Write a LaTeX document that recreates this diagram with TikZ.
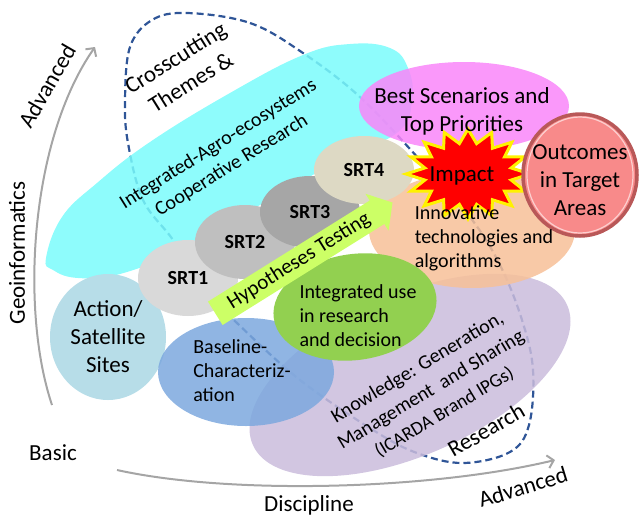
\documentclass[tikz,border=0pt]{standalone}
\usepackage{fontspec}
\setmainfont{Carlito}
\usetikzlibrary{shapes.geometric,shapes.arrows,arrows.meta}

\definecolor{loopblue}{RGB}{47,85,151}
\definecolor{cyanfill}{RGB}{122,251,251}
\definecolor{pinkfill}{RGB}{249,134,249}
\definecolor{peachfill}{RGB}{247,192,152}
\definecolor{lilacfill}{RGB}{202,188,220}
\definecolor{leaffill}{RGB}{146,208,80}
\definecolor{basefill}{RGB}{124,168,222}
\definecolor{sitefill}{RGB}{183,221,232}
\definecolor{srtone}{RGB}{217,217,217}
\definecolor{srttwo}{RGB}{191,191,191}
\definecolor{srtthree}{RGB}{166,166,166}
\definecolor{srtfour}{RGB}{221,217,196}
\definecolor{limefill}{RGB}{204,255,102}
\definecolor{outfill}{RGB}{248,138,138}
\definecolor{outring}{RGB}{185,88,88}
\definecolor{axisgray}{RGB}{165,165,165}

\tikzset{
  blob/.style={ellipse,inner sep=0pt},
  glassy/.style={fill opacity=0.85},
  srt/.style={ellipse,inner sep=0pt,minimum width=100pt,font=\fontsize{20}{24}\selectfont\bfseries},
  lbl/.style={font=\fontsize{20}{24}\selectfont,inner sep=0pt},
  biglbl/.style={font=\fontsize{23}{28}\selectfont,inner sep=0pt},
  axis/.style={axisgray,line width=2pt,-{Straight Barb[length=6pt,width=13pt]}},
}

\begin{document}
\begin{tikzpicture}[x=1pt,y=-1pt]
\useasboundingbox (0,0) rectangle (640,520);

% research loop, under everything else
\draw[loopblue,line width=2.2pt,dash pattern=on 7pt off 4pt]
  plot[smooth cycle,tension=0.6] coordinates {(187,13) (250,23) (303,53) (360,97) (420,160) (470,217) (500,265) (522,320) (533,370) (529,425) (510,452) (463,463) (417,453) (373,430) (300,380) (237,323) (200,285) (173,240) (143,200) (128,143) (125,100) (130,47) (152,20)};

% cooperative research band
\fill[cyanfill,glassy] plot[smooth cycle,tension=0.7] coordinates {(46,258) (62,217) (97,183) (150,142) (230,93) (303,55) (350,44) (390,48) (408,68) (412,100) (398,132) (340,160) (260,205) (180,250) (120,274) (78,278) (53,270)};

% big bubbles
\node[blob,glassy,fill=pinkfill,minimum width=210pt,minimum height=88pt] (best) at (464,106) {};
\node[blob,glassy,fill=lilacfill,minimum width=344pt,minimum height=160pt,rotate=24] (know) at (410,375) {};
\node[blob,glassy,fill=peachfill,minimum width=206pt,minimum height=116pt] (tech) at (472,230) {};
\node[blob,fill=sitefill,minimum width=116pt,minimum height=126pt,biglbl,align=center] (sites) at (108,337) {Action/\\Satellite\\Sites};

% SRT chain
\node[srt,fill=srtone,minimum height=76pt] (srt1) at (188,278) {SRT1};
\node[srt,fill=srttwo,minimum height=74pt] (srt2) at (245,242) {SRT2};
\node[srt,fill=srtthree,minimum height=72pt] (srt3) at (310,212) {SRT3};
\node[srt,fill=srtfour,minimum height=68pt] (srt4) at (364,170) {SRT4};

\node[blob,glassy,fill=basefill,minimum width=176pt,minimum height=108pt] (base) at (246,372) {};
\node[blob,fill=leaffill,minimum width=164pt,minimum height=106pt,rotate=8] (use) at (355,307) {};

% hypotheses arrow across the chain
\node[single arrow,lbl,fill=limefill,rotate=32,minimum height=209pt,single arrow head extend=8pt,single arrow tip angle=100,inner xsep=2pt,inner ysep=4.5pt,font=\fontsize{21}{24}\selectfont] (hyp) at (299,261) {Hypotheses Testing};

% impact burst
\begin{scope}[shift={(468,174)}]
\filldraw[fill=red,draw=yellow,line width=3pt,line join=miter] (0:62 and 45)
  \foreach \k in {1,...,31} { -- ({\k*11.25}:{62-18*mod(\k,2)} and {45-14*mod(\k,2)}) } -- cycle;
\end{scope}
\node[biglbl] (impact) at (462,176) {Impact};

% outcomes disc
\node[blob,fill=outfill,draw=outring,line width=3.5pt,minimum width=114pt,minimum height=122pt] (outc) at (580,175) {};
\draw[outfill!40!white,line width=1.2pt] (outc.center) ellipse [x radius=53, y radius=58];

% bubble texts
\node[biglbl,align=center] (besttxt) at (462,111) {Best Scenarios and\\Top Priorities};
\node[biglbl,align=center] (outtxt) at (580,180) {Outcomes\\in Target\\Areas};
\node[lbl,align=left] (techtxt) at (484,238) {Innovative\\technologies and\\algorithms};
\node[lbl,align=left] (usetxt) at (358,316) {Integrated use\\in research\\and decision};
\node[lbl,align=left] (basetxt) at (242,371) {Baseline-\\Characteriz-\\ation};
\node[lbl,rotate=31,align=center,font=\fontsize{20}{26}\selectfont] (knowtxt) at (431,390) {Knowledge: Generation,\\Management~ and Sharing\\{\fontsize{19}{22}\selectfont(ICARDA Brand IPGs)}};
\node[lbl,rotate=32,align=center,font=\fontsize{20}{25}\selectfont] (agro) at (225,155) {Integrated-Agro-ecosystems\\Cooperative Research};
\node[biglbl,rotate=32,align=center,font=\fontsize{23}{29}\selectfont] (cross) at (183,70) {Crosscutting\\Themes \&};
\node[biglbl,rotate=30] (research) at (486,430) {Research};

% axes
\coordinate (vbot) at (52,405);
\coordinate (vtop) at (95,47);
\draw[axis] (vbot) .. controls (20,310) and (30,140) .. (vtop);
\coordinate (hleft) at (117,470);
\coordinate (hright) at (555,460);
\draw[axis] (hleft) .. controls (230,495) and (430,490) .. (hright);

\node[biglbl,rotate=90] (geo) at (17,253) {Geoinformatics};
\node[biglbl,rotate=60] (advup) at (47,86) {Advanced};
\node[biglbl] (basic) at (53,453) {Basic};
\node[biglbl] (disc) at (309,505) {Discipline};
\node[biglbl,rotate=17] (advright) at (523,487) {Advanced};
\end{tikzpicture}
\end{document}
